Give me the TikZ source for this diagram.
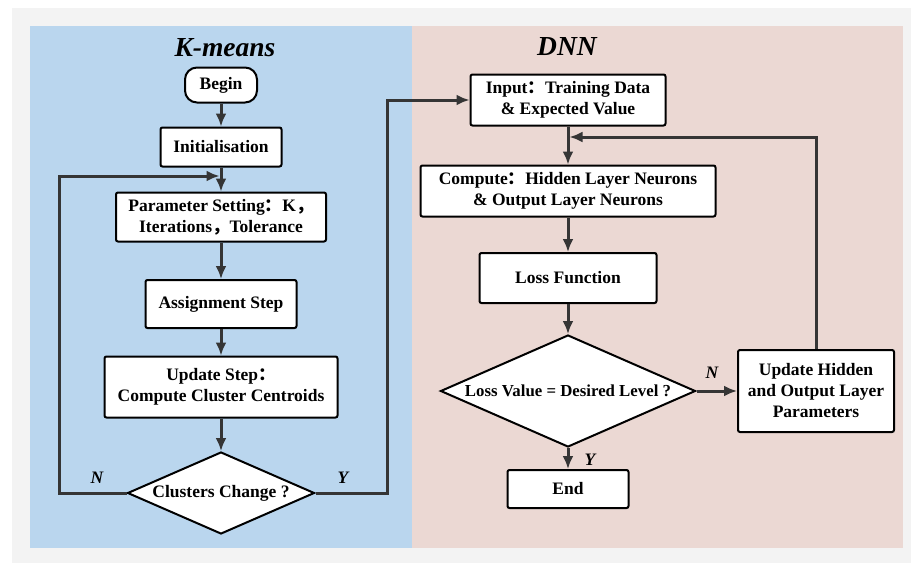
\documentclass[tikz,border=0pt]{standalone}
\usepackage{fontspec}
\setmainfont{Liberation Serif}
\newfontfamily\cjk{Noto Sans CJK SC}
\usetikzlibrary{shapes.geometric,arrows.meta}
\definecolor{kmblue}{HTML}{BAD6EE}
\definecolor{dnnpink}{HTML}{EBD8D3}
\definecolor{framegray}{HTML}{F3F3F3}
\definecolor{linegray}{HTML}{353535}
\tikzset{>={Latex[length=13pt,width=11pt]}}

\begin{document}
\begin{tikzpicture}[x=1pt,y=-1pt,
    title/.style={font=\fontsize{27.5}{30}\selectfont\bfseries\itshape},
    flowlabel/.style={font=\fontsize{17.5}{21}\selectfont\bfseries\itshape},
    every edge/.style={draw=linegray,line width=3pt}]
% panels
\fill[white] (0,0) rectangle (911,563);
\fill[framegray] (12,8) rectangle (911,563);
\fill[kmblue] (30,26) rectangle (412,548);
\fill[dnnpink] (412,26) rectangle (903,548);

\node[title] (kmtitle) at (225,48) {K-means};
\node[title] (dnntitle) at (567,47) {DNN};

\begin{scope}[every node/.style={draw=black,line width=2pt,fill=white,
        rounded corners=2pt,inner sep=0pt,align=center,
        font=\fontsize{17.5}{21}\selectfont\bfseries}]
\node[rounded corners=12pt,minimum width=72pt,minimum height=35pt] (begin) at (221,85) {Begin};
\node[minimum width=121pt,minimum height=39pt] (init) at (221,147) {Initialisation};
\node[minimum width=210pt,minimum height=49pt] (param) at (221,217)
    {Parameter Setting{\cjk ：}K{\cjk ，}\\Iterations{\cjk ，}Tolerance};
\node[minimum width=151pt,minimum height=48pt] (assign) at (221,304) {Assignment Step};
\node[minimum width=233pt,minimum height=61pt] (update) at (221,387)
    {Update Step{\cjk ：}\\Compute Cluster Centroids};
\node[diamond,rounded corners=0pt,aspect=2.28,minimum width=187pt,minimum height=82pt] (change) at (221,493) {Clusters Change ?};

\node[minimum width=195pt,minimum height=51pt] (input) at (568,100)
    {Input{\cjk ：}Training Data\\\& Expected Value};
\node[minimum width=295pt,minimum height=51pt] (compute) at (568,191)
    {Compute{\cjk ：}Hidden Layer Neurons\\\& Output Layer Neurons};
\node[minimum width=177pt,minimum height=50pt] (loss) at (568,278) {Loss Function};
\node[diamond,rounded corners=0pt,aspect=2.28,minimum width=255pt,minimum height=112pt,
      font=\fontsize{16.8}{20}\selectfont\bfseries] (check) at (568,391) {Loss Value = Desired Level ?};
\node[minimum width=156pt,minimum height=82pt] (adjust) at (816,391)
    {Update Hidden\\and Output Layer\\Parameters};
\node[minimum width=121pt,minimum height=38pt] (finish) at (568,489) {End};
\end{scope}

\coordinate (kjoin) at (219.5,176);
\coordinate (djoin) at (569.5,137);

% K-means flow
\path [->] (begin) edge (init);
\path [->] (init) edge (param);
\path [->] (param) edge (assign);
\path [->] (assign) edge (update);
\path [->] (update) edge (change);
\draw [->,draw=linegray,line width=3pt] (change.west) -- ++(-67,0) |- (kjoin);
\draw [->,draw=linegray,line width=3pt] (change.east) -- ++(72,0) |- (input.west);

% DNN flow
\path [->] (input) edge (compute);
\path [->] (compute) edge (loss);
\path [->] (loss) edge (check);
\path [->] (check.east) edge (adjust.west);
\path [->] (check.south) edge (finish.north);
\draw [->,draw=linegray,line width=3pt] (adjust.north) |- (djoin);

\node[flowlabel] (kno) at (97,478) {N};
\node[flowlabel] (kyes) at (343,478) {Y};
\node[flowlabel] (dno) at (712,373) {N};
\node[flowlabel] (dyes) at (590,460) {Y};
\end{tikzpicture}
\end{document}
